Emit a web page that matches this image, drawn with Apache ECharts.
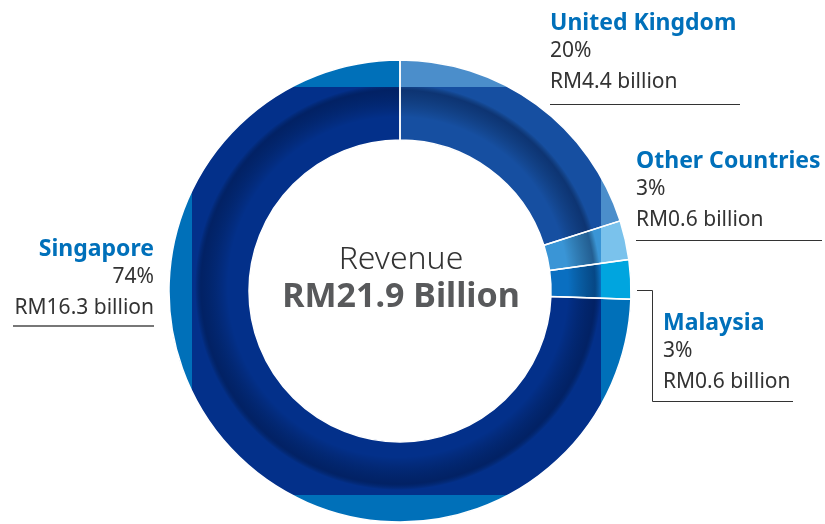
<!DOCTYPE html>
<html>
<head>
<meta charset="utf-8">
<script src="https://cdn.jsdelivr.net/npm/echarts@6/dist/echarts.min.js"></script>
<style>
  html, body { margin: 0; padding: 0; background: #fff; }
  #main { width: 825px; height: 524px; }
</style>
</head>
<body>
<div id="main"></div>
<script>
// data
var regions = ['United Kingdom', 'Other Countries', 'Malaysia', 'Singapore'];
var revenueBn = [4.4, 0.6, 0.6, 16.3];
var sharePct = [20, 3, 3, 74];

// colours: inner (darker) and outer (lighter) tone of each slice
var innerColors = ['#164fa1', '#3a95d6', '#0a6fc1', '#03308a'];
var outerColors = ['#4b8ecb', '#7ac2ec', '#00a5df', '#0070b9'];

// label placement (x, y of name line, align)
var labelPos = [
  { x: 550, y: 23, align: 'left' },
  { x: 636, y: 161, align: 'left' },
  { x: 663, y: 323, align: 'left' },
  { x: 154, y: 249, align: 'right' }
];

var W = 825, H = 524;
var cx = 400, cy = 291;
var rIn = 151, rOut = 231;
// the lighter outer tone only shows outside this box
var box = { x1: 192, x2: 601, y1: 87, y2: 495 };
var clear = 'rgba(0,0,0,0)';

function bandGradient(col, horizontal) {
  var a = horizontal ? box.x1 / W : box.y1 / H;
  var b = horizontal ? box.x2 / W : box.y2 / H;
  return {
    type: 'linear', global: true,
    x: 0, y: 0, x2: horizontal ? W : 0, y2: horizontal ? 0 : H,
    colorStops: [
      { offset: 0, color: col }, { offset: a, color: col },
      { offset: a, color: clear }, { offset: b, color: clear },
      { offset: b, color: col }, { offset: 1, color: col }
    ]
  };
}

function ringData(colorFn) {
  return regions.map(function (name, i) {
    return { name: name, value: revenueBn[i], itemStyle: { color: colorFn(i) } };
  });
}

function ring(z, data, extra) {
  var s = {
    type: 'pie', z: z, silent: true, animation: false,
    center: [cx, cy], radius: [rIn, rOut],
    startAngle: 90, clockwise: true,
    label: { show: false }, labelLine: { show: false },
    itemStyle: { borderWidth: 0 },
    data: data
  };
  for (var k in extra) s[k] = extra[k];
  return s;
}

var total = revenueBn.reduce(function (a, b) { return a + b; }, 0);

var shadow = {
  type: 'radial', global: true, x: 398, y: 287, r: rOut,
  colorStops: [
    { offset: 0, color: clear },
    { offset: 170 / rOut, color: clear },
    { offset: 197 / rOut, color: 'rgba(0,12,45,0.4)' },
    { offset: 203 / rOut, color: clear },
    { offset: 1, color: clear }
  ]
};

var graphics = [];
regions.forEach(function (name, i) {
  var p = labelPos[i];
  graphics.push({
    type: 'text', x: p.x, y: p.y,
    style: { text: name, fontFamily: 'Noto Sans', fontSize: 23, fontWeight: 'bold',
      fill: '#0070ba', textAlign: p.align, textVerticalAlign: 'middle' }
  });
  graphics.push({
    type: 'text', x: p.x, y: p.y + 28,
    style: { text: sharePct[i] + '%', fontFamily: 'Noto Sans', fontSize: 21,
      fill: '#333', textAlign: p.align, textVerticalAlign: 'middle' }
  });
  graphics.push({
    type: 'text', x: p.x, y: p.y + 59,
    style: { text: 'RM' + revenueBn[i].toFixed(1) + ' billion', fontFamily: 'Noto Sans', fontSize: 21,
      fill: '#333', textAlign: p.align, textVerticalAlign: 'middle' }
  });
});

// leader lines
graphics.push(
  { type: 'line', shape: { x1: 550, y1: 104.5, x2: 740, y2: 104.5 }, style: { stroke: '#333', lineWidth: 1 } },
  { type: 'line', shape: { x1: 636, y1: 240.5, x2: 822, y2: 240.5 }, style: { stroke: '#333', lineWidth: 1 } },
  { type: 'polyline', shape: { points: [[637, 290.5], [652.5, 290.5], [652.5, 401.5], [793, 401.5]] },
    style: { stroke: '#333', lineWidth: 1, fill: null } },
  { type: 'line', shape: { x1: 13, y1: 326, x2: 154, y2: 326 }, style: { stroke: '#777', lineWidth: 2 } }
);

// centre text
graphics.push(
  { type: 'text', x: 401, y: 260,
    style: { text: 'Revenue', fontFamily: 'Noto Sans', fontSize: 32, fontWeight: 300,
      fill: '#333', textAlign: 'center', textVerticalAlign: 'middle' } },
  { type: 'text', x: 401, y: 297,
    style: { text: 'RM' + total.toFixed(1) + ' Billion', fontFamily: 'Noto Sans', fontSize: 34, fontWeight: 'bold',
      fill: '#58595b', textAlign: 'center', textVerticalAlign: 'middle' } }
);

var myChart = echarts.init(document.getElementById('main'), null, { renderer: 'canvas' });
myChart.setOption({
  backgroundColor: '#fff',
  animation: false,
  series: [
    ring(1, ringData(function (i) { return innerColors[i]; })),
    ring(2, [{ value: total, itemStyle: { color: shadow } }]),
    ring(3, ringData(function (i) { return bandGradient(outerColors[i], true); })),
    ring(4, ringData(function (i) { return bandGradient(outerColors[i], false); })),
    // white separators between slices
    ring(5, ringData(function () { return clear; }), {
      itemStyle: { borderColor: '#fff', borderWidth: 1.5 }
    })
  ],
  graphic: graphics
});
</script>
</body>
</html>
